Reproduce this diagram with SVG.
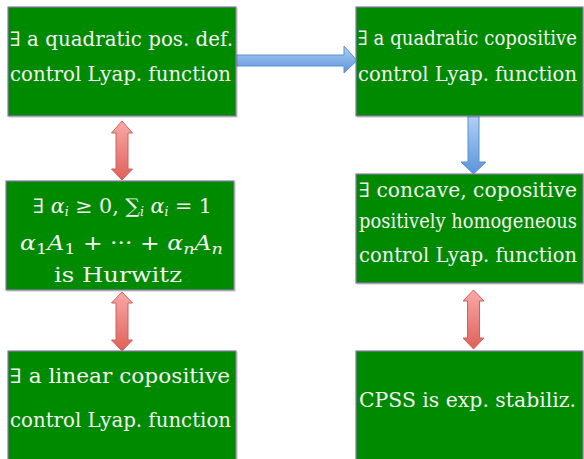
<svg xmlns="http://www.w3.org/2000/svg" width="584" height="459" viewBox="0 0 584 459">
<style>
.box{fill:#008a00;stroke:#8a78a8;stroke-width:1.2}
.sh{fill:#000;opacity:0.12}
text{font-family:'DejaVu Serif','Times New Roman',serif;fill:#f4f4f0;font-size:20px}
.ra{fill:url(#rg);stroke:#d0605a;stroke-width:1}
.ba{fill:url(#bg);stroke:#5b8fd0;stroke-width:1}
</style>
<defs>
<linearGradient id="rg" x1="0" y1="0" x2="0" y2="1">
<stop offset="0" stop-color="#f7aaa8"/>
<stop offset="1" stop-color="#e0605a"/>
</linearGradient>
<linearGradient id="bg" x1="0" y1="0" x2="0" y2="1">
<stop offset="0" stop-color="#b0d0f4"/>
<stop offset="1" stop-color="#5a94dc"/>
</linearGradient>
</defs>
<g id="connectors">
<path class="ba" d="M236,55 H344 V46 L357,60.5 L344,73 V66 H236 Z"/>
<path class="ba" d="M468,116 V162 H461 L473.5,174 L486,162 H479 V116 Z"/>
<path class="ra" d="M122,121 L132.5,133 H128 V169 H132.5 L122,180 L111.5,169 H116 V133 H111.5 Z"/>
<path class="ra" d="M122,292 L132.5,303 H128 V340 H132.5 L122,351 L111.5,340 H116 V303 H111.5 Z"/>
<path class="ra" d="M473.5,290 L484,301 H479.5 V338 H484 L473.5,349 L463,338 H467.5 V301 H463 Z"/>
</g>
<g id="n1">
<rect class="sh" x="9" y="8" width="229" height="110"/>
<rect class="box" x="8" y="7" width="228" height="109"/>
<text x="10" y="46" textLength="223" lengthAdjust="spacingAndGlyphs">∃ a quadratic pos. def.</text>
<text x="10" y="81" textLength="221" lengthAdjust="spacingAndGlyphs">control Lyap. function</text>
</g>
<g id="n2">
<rect class="sh" x="357" y="8" width="229" height="110"/>
<rect class="box" x="356" y="7" width="227" height="109"/>
<text x="358" y="45" font-size="18" textLength="219" lengthAdjust="spacingAndGlyphs">∃ a quadratic copositive</text>
<text x="358" y="81" textLength="219" lengthAdjust="spacingAndGlyphs">control Lyap. function</text>
</g>
<g id="n3">
<rect class="sh" x="7" y="182" width="229" height="110"/>
<rect class="box" x="6" y="181" width="228" height="109"/>
<text x="33" y="213" font-size="18" textLength="179" lengthAdjust="spacingAndGlyphs">∃ <tspan font-style="italic">α</tspan><tspan font-size="12" dy="3" font-style="italic">i</tspan><tspan dy="-3"> ≥ 0, ∑</tspan><tspan font-size="12" dy="3" font-style="italic">i</tspan><tspan dy="-3" font-style="italic"> α</tspan><tspan font-size="12" dy="3" font-style="italic">i</tspan><tspan dy="-3"> = 1</tspan></text>
<text x="20" y="250" font-size="22" textLength="203" lengthAdjust="spacingAndGlyphs"><tspan font-style="italic">α</tspan><tspan font-size="15" dy="4">1</tspan><tspan dy="-4" font-style="italic">A</tspan><tspan font-size="15" dy="4">1</tspan><tspan dy="-4"> + ··· + </tspan><tspan font-style="italic">α</tspan><tspan font-size="15" dy="4" font-style="italic">n</tspan><tspan dy="-4" font-style="italic">A</tspan><tspan font-size="15" dy="4" font-style="italic">n</tspan></text>
<text x="54" y="282" font-size="25" textLength="128" lengthAdjust="spacingAndGlyphs">is Hurwitz</text>
</g>
<g id="n4">
<rect class="sh" x="357" y="175" width="229" height="110"/>
<rect class="box" x="356" y="174" width="227" height="109"/>
<text x="359" y="197" textLength="218" lengthAdjust="spacingAndGlyphs">∃ concave, copositive</text>
<text x="359" y="228" font-size="18" textLength="218" lengthAdjust="spacingAndGlyphs">positively homogeneous</text>
<text x="359" y="262" textLength="218" lengthAdjust="spacingAndGlyphs">control Lyap. function</text>
</g>
<g id="n5">
<rect class="sh" x="9" y="352" width="229" height="110"/>
<rect class="box" x="8" y="351" width="228" height="120"/>
<text x="10" y="383" textLength="220" lengthAdjust="spacingAndGlyphs">∃ a linear copositive</text>
<text x="10" y="427" textLength="221" lengthAdjust="spacingAndGlyphs">control Lyap. function</text>
</g>
<g id="n6">
<rect class="sh" x="357" y="352" width="229" height="110"/>
<rect class="box" x="356" y="351" width="227" height="120"/>
<text x="359" y="407" textLength="217" lengthAdjust="spacingAndGlyphs">CPSS is exp. stabiliz.</text>
</g>
</svg>
